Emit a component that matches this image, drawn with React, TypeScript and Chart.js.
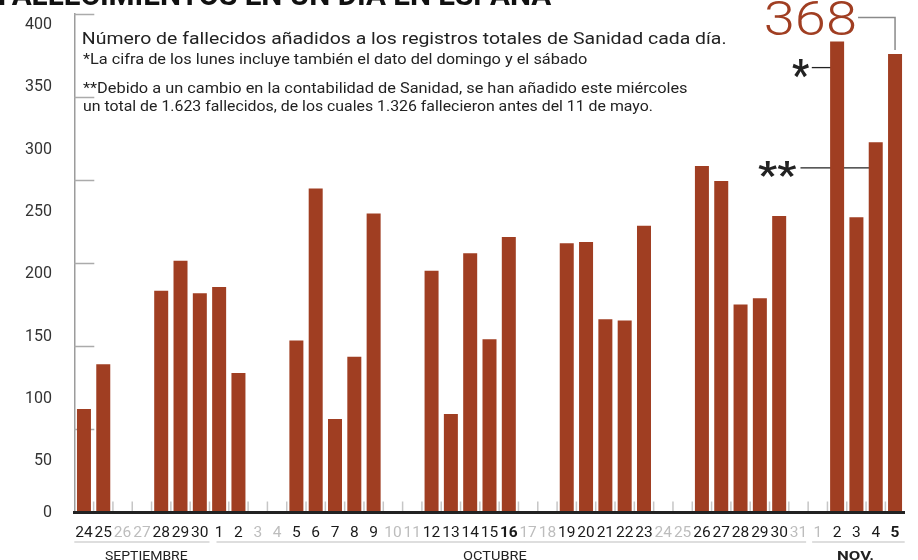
import React, { useEffect, useRef } from 'react';
import { Chart, registerables } from 'chart.js';

Chart.register(...registerables);

// ---- Data ----
const dayLabels = [
  '24', '25', '26', '27', '28', '29', '30',
  '1', '2', '3', '4', '5', '6', '7', '8', '9', '10', '11', '12', '13', '14', '15', '16',
  '17', '18', '19', '20', '21', '22', '23', '24', '25', '26', '27', '28', '29', '30', '31',
  '1', '2', '3', '4', '5',
];
const deaths: (number | null)[] = [
  83, 119, null, null, 178, 202, 176,
  181, 112, null, null, 138, 260, 75, 125, 240, null, null, 194, 79, 208, 139, 221,
  null, null, 216, 217, 155, 154, 230, null, null, 278, 266, 167, 172, 238, null,
  null, 378, 237, 297, 368,
];
const boldDays = [22, 42];
const monthNames = ['SEPTIEMBRE', 'OCTUBRE', 'NOV.'];
const monthLast = [6, 37, 42];
const monthLabelAt = [3.24, 21.29, 39.93];
const yMax = 400;
const yStep = 50;
const highlightIndex = 42;
const highlightLabel = '368';
const titleText = 'FALLECIMIENTOS EN UN DÍA EN ESPAÑA';
const noteLines = [
  'Número de fallecidos añadidos a los registros totales de Sanidad cada día.',
  '*La cifra de los lunes incluye también el dato del domingo y el sábado',
  '**Debido a un cambio en la contabilidad de Sanidad, se han añadido este miércoles',
  'un total de 1.623 fallecidos, de los cuales 1.326 fallecieron antes del 11 de mayo.',
];
const starNote = '*';
const starStarNote = '**';

const BAR = '#A03E22';
const FONT = 'Roboto, "Noto Sans", sans-serif';
const NARROW = '"Liberation Sans Narrow", "Arial Narrow", Roboto, sans-serif';

function fitWidth(ctx: CanvasRenderingContext2D, text: string, left: number, baseline: number, width: number, font: string, color: string) {
  ctx.save();
  ctx.font = font;
  ctx.fillStyle = color;
  ctx.textAlign = 'left';
  ctx.textBaseline = 'alphabetic';
  const m = ctx.measureText(text);
  const w = m.actualBoundingBoxLeft + m.actualBoundingBoxRight;
  const s = w > 0 ? width / w : 1;
  ctx.translate(left, baseline);
  ctx.scale(s, 1);
  ctx.fillText(text, m.actualBoundingBoxLeft, 0);
  ctx.restore();
}

function fitBox(ctx: CanvasRenderingContext2D, text: string, left: number, top: number, width: number, height: number, font: string, color: string) {
  ctx.save();
  ctx.font = font;
  ctx.fillStyle = color;
  ctx.textAlign = 'left';
  ctx.textBaseline = 'alphabetic';
  const m = ctx.measureText(text);
  const w = m.actualBoundingBoxLeft + m.actualBoundingBoxRight;
  const h = m.actualBoundingBoxAscent + m.actualBoundingBoxDescent;
  ctx.translate(left, top);
  ctx.scale(width / w, height / h);
  ctx.fillText(text, m.actualBoundingBoxLeft, m.actualBoundingBoxAscent);
  ctx.restore();
}

function line(ctx: CanvasRenderingContext2D, pts: number[][], color: string, lw: number) {
  ctx.save();
  ctx.strokeStyle = color;
  ctx.lineWidth = lw;
  ctx.beginPath();
  pts.forEach((p, i) => (i === 0 ? ctx.moveTo(p[0], p[1]) : ctx.lineTo(p[0], p[1])));
  ctx.stroke();
  ctx.restore();
}

const decorPlugin = {
  id: 'decor',
  beforeDatasetsDraw(chart: any) {
    const { ctx, chartArea: ca, scales } = chart;
    const x = scales.x;
    const y = scales.y;
    // decorative left marks
    for (let k = 1; k <= 6; k++) {
      const py = Math.round(y.getPixelForValue((yMax * k) / 6)) + 0.5;
      line(ctx, [[ca.left, py], [ca.left + 20, py]], '#ababab', 1.5);
    }
    // category boundary ticks
    for (let i = 1; i < dayLabels.length; i++) {
      const px = (x.getPixelForValue(i - 1) + x.getPixelForValue(i)) / 2;
      line(ctx, [[px, ca.bottom - 11], [px, ca.bottom]], '#c6c6c6', 1.5);
    }
    // leader lines for notes (behind bars)
    const y1 = y.getPixelForValue(357);
    line(ctx, [[x.getPixelForValue(38) - 6, y1], [x.getPixelForValue(39), y1]], '#222', 1.3);
    const y2 = y.getPixelForValue(276.5);
    line(ctx, [[x.getPixelForValue(37) + 2, y2], [x.getPixelForValue(41), y2]], '#222', 1.3);
  },
  afterDraw(chart: any) {
    const { ctx, chartArea: ca, scales } = chart;
    const x = scales.x;
    const y = scales.y;
    // title (cut off at top)
    fitWidth(ctx, titleText, -1, 5, 553, `700 30px ${FONT}`, '#111');
    // notes
    fitWidth(ctx, noteLines[0], 83, 44, 643, `400 17px ${FONT}`, '#222');
    fitWidth(ctx, noteLines[1], 83, 64, 504, `400 14.5px ${FONT}`, '#222');
    fitWidth(ctx, noteLines[2], 83, 92.5, 604, `400 14.5px ${FONT}`, '#222');
    fitWidth(ctx, noteLines[3], 83, 110.5, 569, `400 14.5px ${FONT}`, '#222');
    // asterisks
    const y1 = y.getPixelForValue(357);
    fitBox(ctx, starNote, x.getPixelForValue(38) - 25.7, y1 - 8.7, 17, 19, `700 40px ${FONT}`, '#222');
    const y2 = y.getPixelForValue(276.5);
    fitBox(ctx, starStarNote, x.getPixelForValue(37) - 40.4, y2 - 8, 38, 17, `700 40px ${FONT}`, '#222');
    // highlight value
    const hx = x.getPixelForValue(highlightIndex);
    const hv = deaths[highlightIndex] as number;
    fitBox(ctx, highlightLabel, hx - 129, 0.5, 89, 34.5, `300 50px ${FONT}`, BAR);
    line(ctx, [[hx - 37, 17.5], [hx, 17.5], [hx, y.getPixelForValue(hv) - 4]], '#8a8a8a', 1.5);
    // month underlines and names
    const b = (i: number) => (x.getPixelForValue(i) + x.getPixelForValue(i + 1)) / 2;
    const lineY = 542;
    line(ctx, [[ca.left, lineY], [b(monthLast[0]), lineY]], '#bdbdbd', 1.2);
    line(ctx, [[b(monthLast[0]) + 7, lineY], [b(monthLast[1]) - 2, lineY]], '#bdbdbd', 1.2);
    line(ctx, [[b(monthLast[1]) + 4, lineY], [ca.right, lineY]], '#bdbdbd', 1.2);
    const widths = [83, 64, 36];
    monthNames.forEach((name, i) => {
      const cx = x.getPixelForValue(monthLabelAt[i]);
      const bold = i === 2;
      fitWidth(ctx, name, cx - widths[i] / 2, 559.5, widths[i], `${bold ? 700 : 400} 13.5px ${FONT}`, '#222');
    });
  },
};

export default function App() {
  const ref = useRef<HTMLCanvasElement>(null);
  useEffect(() => {
    const chart = new Chart(ref.current as HTMLCanvasElement, {
      type: 'bar',
      data: {
        labels: dayLabels,
        datasets: [
          {
            data: deaths as any,
            backgroundColor: BAR,
            barPercentage: 0.725,
            categoryPercentage: 1,
          },
        ],
      },
      options: {
        responsive: false,
        animation: false,
        layout: { padding: { left: 0, top: 14, right: 13.3, bottom: 0 } },
        plugins: { legend: { display: false }, tooltip: { enabled: false } },
        scales: {
          x: {
            grid: { display: false },
            border: { display: true, color: '#222', width: 3, z: 1 } as any,
            ticks: {
              autoSkip: false,
              maxRotation: 0,
              minRotation: 0,
              padding: 3,
              color: (c: any) => (deaths[c.index] == null ? '#bdbdbd' : '#1a1a1a'),
              font: (c: any) => ({
                family: NARROW,
                size: 15.5,
                weight: boldDays.includes(c.index) ? 'bold' : 'normal',
              }),
            },
            afterFit: (s: any) => {
              s.height = 47.5;
              s.paddingLeft = 0;
              s.paddingRight = 0;
            },
          },
          y: {
            min: 0,
            max: yMax,
            grid: { display: false },
            border: { display: true, color: '#9c9c9c', width: 1.5 },
            ticks: {
              stepSize: yStep,
              padding: 14.3,
              labelOffset: 11,
              color: '#333',
              font: { family: FONT, size: 16, lineHeight: 1.375 },
              callback: (v: any) => (v === 0 ? ['0', ''] : String(v)),
            },
            afterFit: (s: any) => {
              s.width = 74.3;
              s.paddingTop = 0;
              s.paddingBottom = 0;
            },
          },
        },
      },
      plugins: [decorPlugin],
    });
    return () => chart.destroy();
  }, []);
  return (
    <div style={{ position: 'absolute', left: 0, top: 0, width: 918, height: 560, background: '#fff' }}>
      <canvas ref={ref} width={918} height={560} style={{ display: 'block' }} />
    </div>
  );
}
